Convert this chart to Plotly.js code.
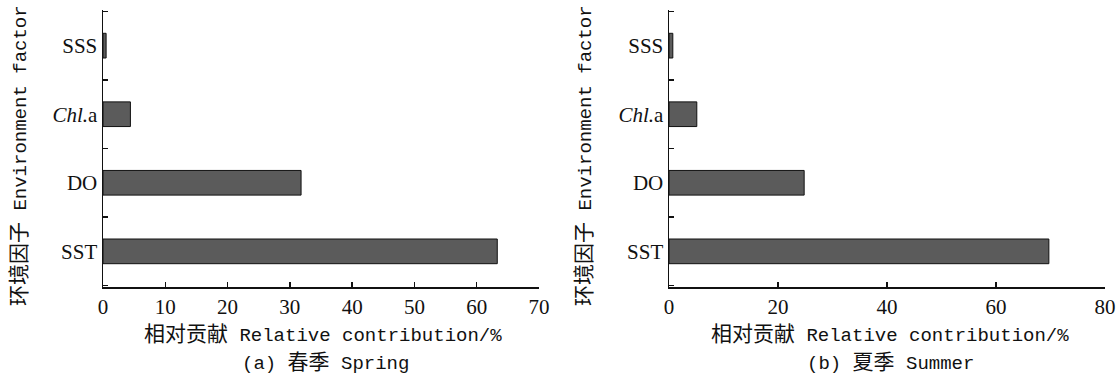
<!DOCTYPE html>
<html>
<head>
<meta charset="utf-8">
<script src="https://cdn.plot.ly/plotly-3.0.1.min.js"></script>
<style>html,body{margin:0;padding:0;background:#fff;}#chart{width:1118px;height:377px;}</style>
</head>
<body>
<div id="chart"></div>
<script>
// Data (bottom to top)
const factors = ['SST', 'DO', 'Chl.a', 'SSS'];
const factorLabels = ['SST', 'DO', '<i>Chl.</i>a', 'SSS'];
const springValues = [63.3, 31.8, 4.4, 0.5];
const summerValues = [69.7, 24.8, 5.1, 0.7];
const springTicks = [0, 10, 20, 30, 40, 50, 60, 70];
const summerTicks = [0, 20, 40, 60, 80];
const panelTitles = ['(a) <span style="font-size:21px">春季</span> Spring', '(b) <span style="font-size:21px">夏季</span> Summer'];
const xTitle = '<span style="font-size:21px">相对贡献</span> Relative contribution/%';
const yTitle = '<span style="font-size:21px">环境因子</span> Environment factor';

const W = 1118, H = 377;
const pos = factors.map((f, i) => i);
const boundaries = [-0.5, 0.5, 1.5, 2.5, 3.5];

const barStyle = {color: '#5b5b5b', line: {color: '#111', width: 1}};
const traces = [
  {type: 'bar', orientation: 'h', x: springValues, y: pos, xaxis: 'x', yaxis: 'y', width: 0.36, marker: barStyle, hoverinfo: 'x+y', name: 'Spring'},
  {type: 'bar', orientation: 'h', x: summerValues, y: pos, xaxis: 'x2', yaxis: 'y2', width: 0.36, marker: barStyle, hoverinfo: 'x+y', name: 'Summer'}
];

const tickFont = {family: 'Liberation Serif, Times New Roman, serif', size: 21, color: '#111'};
const monoFont = {family: 'Liberation Mono, Noto Sans CJK SC, monospace', size: 19, color: '#111'};

function xAxis(domain, range, ticks, anchor) {
  return {
    domain: domain, range: range, anchor: anchor, tickmode: 'array', tickvals: ticks,
    ticks: 'inside', ticklen: 5, tickwidth: 1.3, tickcolor: '#111',
    showline: true, linecolor: '#111', linewidth: 1.5, showgrid: false, zeroline: false,
    tickfont: tickFont, automargin: false, fixedrange: true
  };
}
function yAxis(domain, anchor) {
  return {
    domain: domain, range: [-0.52, 3.52], anchor: anchor, tickmode: 'array', tickvals: pos, ticktext: factorLabels,
    ticks: '', showline: true, linecolor: '#111', linewidth: 1.5, showgrid: false, zeroline: false,
    tickfont: tickFont, automargin: false, fixedrange: true,
    minor: {tickmode: 'array', tickvals: boundaries, ticks: 'inside', ticklen: 5, tickwidth: 1.3, tickcolor: '#111', showgrid: false}
  };
}

const yDom = [1 - 287 / H, 1 - 10 / H];
const layout = {
  width: W, height: H,
  margin: {l: 0, r: 0, t: 0, b: 0},
  paper_bgcolor: '#fff', plot_bgcolor: '#fff',
  showlegend: false, bargap: 0.5,
  xaxis: xAxis([103 / W, 539 / W], [0, 70], springTicks, 'y'),
  yaxis: yAxis(yDom, 'x'),
  xaxis2: xAxis([669 / W, 1105 / W], [0, 80], summerTicks, 'y2'),
  yaxis2: yAxis(yDom, 'x2'),
  annotations: [
    {text: xTitle, xref: 'paper', yref: 'paper', x: 323 / W, y: 1 - 335 / H, showarrow: false, font: monoFont, xanchor: 'center', yanchor: 'middle'},
    {text: xTitle, xref: 'paper', yref: 'paper', x: 890 / W, y: 1 - 335 / H, showarrow: false, font: monoFont, xanchor: 'center', yanchor: 'middle'},
    {text: panelTitles[0], xref: 'paper', yref: 'paper', x: 325 / W, y: 1 - 363 / H, showarrow: false, font: monoFont, xanchor: 'center', yanchor: 'middle'},
    {text: panelTitles[1], xref: 'paper', yref: 'paper', x: 891 / W, y: 1 - 363 / H, showarrow: false, font: monoFont, xanchor: 'center', yanchor: 'middle'},
    {text: yTitle, xref: 'paper', yref: 'paper', x: 20 / W, y: 1 - 156 / H, showarrow: false, font: monoFont, textangle: -90, xanchor: 'center', yanchor: 'middle'},
    {text: yTitle, xref: 'paper', yref: 'paper', x: 585 / W, y: 1 - 156 / H, showarrow: false, font: monoFont, textangle: -90, xanchor: 'center', yanchor: 'middle'}
  ]
};

Plotly.newPlot('chart', traces, layout, {displayModeBar: false, staticPlot: true});
</script>
</body>
</html>
